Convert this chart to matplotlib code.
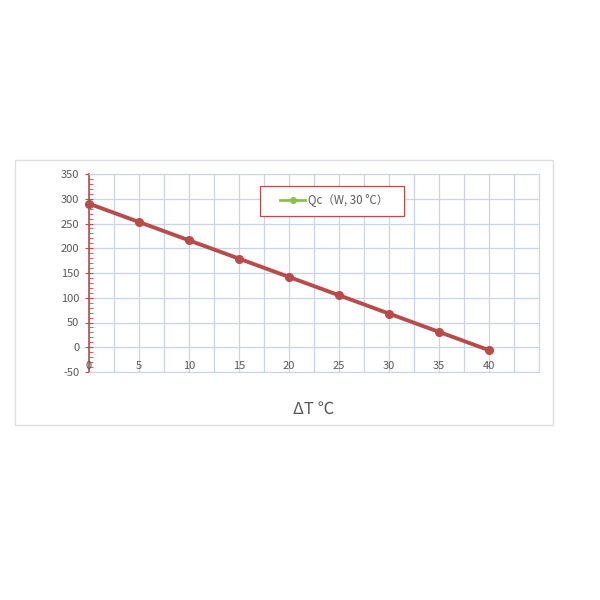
import matplotlib

matplotlib.use("Agg")
import matplotlib.pyplot as plt
from matplotlib.patches import Rectangle
from matplotlib.ticker import MultipleLocator

plt.rcParams["font.family"] = ["Noto Sans CJK SC", "DejaVu Sans"]
plt.rcParams["axes.unicode_minus"] = False

DELTA_T = [0, 5, 10, 15, 20, 25, 30, 35, 40]
QC = [290, 253, 216, 179, 142, 105, 68, 31, -6]
SERIES_LABEL = "Qc（W, 30 °C）"
X_LABEL = "ΔT ℃"

RED = "#b84c4a"
GREEN = "#8fbf4a"
GRID = "#c9d5e6"
TEXT = "#595959"

fig = plt.figure(figsize=(6, 6), dpi=100)
fig.patches.append(Rectangle((15 / 600, 1 - 425 / 600), 538 / 600, 265 / 600,
                             transform=fig.transFigure, fill=False,
                             edgecolor="#dddddd", lw=1))

ax = fig.add_axes([89 / 600, 1 - 372 / 600, 450 / 600, 198 / 600])
ax.plot(DELTA_T, QC, color=RED, lw=2.8, marker="o", ms=5.5, zorder=3, clip_on=False)

ax.set_xlim(0, 45)
ax.set_ylim(-50, 350)
ax.xaxis.set_major_locator(MultipleLocator(2.5))
ax.yaxis.set_major_locator(MultipleLocator(50))
ax.yaxis.set_minor_locator(MultipleLocator(10))
ax.grid(True, color=GRID, lw=0.9)
ax.set_axisbelow(True)

for side in ["top", "right", "bottom"]:
    ax.spines[side].set_color(GRID)
ax.spines["left"].set_color(RED)
ax.spines["left"].set_linewidth(1.2)

ax.tick_params(axis="y", which="major", colors=RED, direction="inout", length=6,
               labelcolor=TEXT, labelsize=8, pad=4)
ax.tick_params(axis="y", which="minor", colors=RED, direction="in", length=3)
ax.set_xticklabels([])
ax.tick_params(axis="x", length=0)
for x in DELTA_T:
    ax.text(x, -38, str(x), ha="center", va="center", fontsize=8, color=TEXT)

ax.text(22.5, -126, X_LABEL, ha="center", va="center", fontsize=12, color=TEXT)

# legend frame drawn by hand so it can be wider than its contents
ax.add_patch(Rectangle((260 / 600, 1 - 216 / 600), 144 / 600, 30 / 600,
                       transform=fig.transFigure, facecolor="white",
                       edgecolor=RED, lw=0.9, zorder=4, clip_on=False))
leg = ax.legend([ax.plot([], [], color=GREEN, lw=2, marker="o", ms=4)[0]], [SERIES_LABEL],
                loc="center left", bbox_to_anchor=((280 - 89) / 450, (372 - 201) / 198),
                fontsize=8.3, frameon=False, borderpad=0,
                handlelength=2.2, handletextpad=0.2, borderaxespad=0)
for t in leg.get_texts():
    t.set_color(TEXT)
leg.set_zorder(5)

fig.savefig("out.png", dpi=100)
